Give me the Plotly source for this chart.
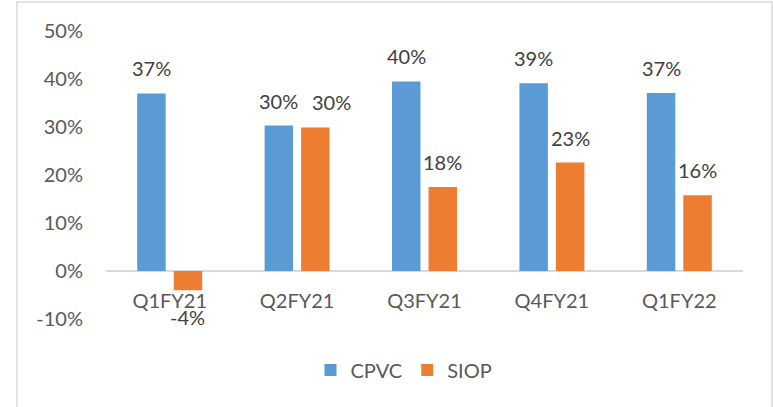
import plotly.graph_objects as go

categories = ["Q1FY21", "Q2FY21", "Q3FY21", "Q4FY21", "Q1FY22"]
cpvc = [0.370, 0.303, 0.395, 0.391, 0.371]
siop = [-0.040, 0.299, 0.175, 0.226, 0.158]
cpvc_labels = ["37%", "30%", "40%", "39%", "37%"]
siop_labels = ["-4%", "30%", "18%", "23%", "16%"]
y_ticks = [-0.1, 0, 0.1, 0.2, 0.3, 0.4, 0.5]
y_tick_labels = ["-10%", "0%", "10%", "20%", "30%", "40%", "50%"]

BLUE = "#5B9BD5"
ORANGE = "#ED7D31"
FONT = "Lato"
FS = 20

fig = go.Figure()
fig.add_trace(go.Bar(x=categories, y=cpvc, name="CPVC", marker=dict(color=BLUE, line=dict(width=0))))
fig.add_trace(go.Bar(x=categories, y=siop, name="SIOP", marker=dict(color=ORANGE, line=dict(width=0))))

OFF = 18.25
annotations = []
for i, c in enumerate(categories):
    annotations.append(dict(x=c, y=cpvc[i], text=cpvc_labels[i], xref="x", yref="y",
                            showarrow=False, xshift=-OFF, yshift=25 if cpvc[i] >= 0 else -27,
                            xanchor="center", yanchor="middle",
                            font=dict(family=FONT, size=FS, color="#404040")))
    extra = 16 if i == 1 else 0
    annotations.append(dict(x=c, y=siop[i], text=siop_labels[i], xref="x", yref="y",
                            showarrow=False, xshift=OFF + extra, yshift=25 if siop[i] >= 0 else -27,
                            xanchor="center", yanchor="middle",
                            font=dict(family=FONT, size=FS, color="#404040")))

L, R, T, B = 106, 30, 31, 88
W, H = 773, 407
pw = W - L - R
ph = H - T - B

fig.update_layout(
    width=W, height=H,
    margin=dict(l=L, r=R, t=T, b=B, autoexpand=False),
    paper_bgcolor="white", plot_bgcolor="white",
    barmode="group", bargap=0.427, bargroupgap=0.22,
    font=dict(family=FONT, size=FS, color="#595959"),
    annotations=annotations,
    showlegend=True,
    legend=dict(orientation="h", x=(404 - L) / pw, xanchor="center",
                y=(ph + T - 370) / ph, yanchor="middle",
                font=dict(family=FONT, size=FS, color="#595959"),
                itemwidth=30, bgcolor="rgba(0,0,0,0)"),
    shapes=[dict(type="rect", xref="paper", yref="paper",
                 x0=(17 - L) / pw, x1=(772 - L) / pw,
                 y0=-0.6, y1=(ph + T - 2) / ph,
                 line=dict(color="#d9d9d9", width=1.5), fillcolor="rgba(0,0,0,0)", layer="below")],
)
fig.update_xaxes(anchor="free", position=1/6, showgrid=False, showline=False,
                 ticks="outside", ticklen=0, ticklabelstandoff=12,
                 tickfont=dict(family=FONT, size=FS, color="#595959"))
fig.update_yaxes(range=[-0.1, 0.5], tickvals=y_ticks, ticktext=y_tick_labels,
                 showgrid=False, showline=False, zeroline=True,
                 zerolinecolor="#d9d9d9", zerolinewidth=1.5,
                 ticks="outside", ticklen=0, ticklabelstandoff=18,
                 tickfont=dict(family=FONT, size=FS, color="#595959"))

fig.write_html("out.html", config={"displayModeBar": False},
               post_script="document.body.style.margin='0';document.body.style.padding='0';")
